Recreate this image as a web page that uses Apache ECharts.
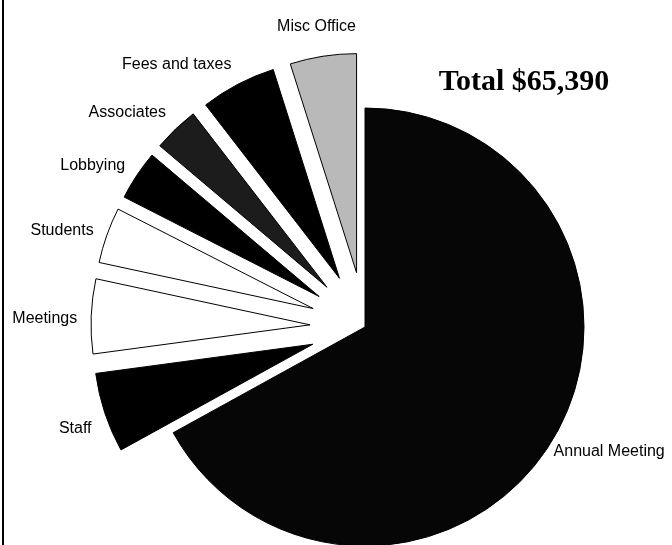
<!DOCTYPE html>
<html>
<head>
<meta charset="utf-8">
<script src="https://cdn.jsdelivr.net/npm/echarts@6/dist/echarts.min.js"></script>
<style>
  html, body { margin: 0; padding: 0; background: #fff; }
  #chart { width: 672px; height: 545px; }
</style>
</head>
<body>
<div id="chart"></div>
<script>
// ---- data ----
const categories = ['Annual Meeting', 'Staff', 'Meetings', 'Students', 'Lobbying', 'Associates', 'Fees and taxes', 'Misc Office'];
const amounts = [43800, 3850, 3600, 2700, 2400, 2200, 3640, 3200];
const exploded = [false, true, true, true, true, true, true, true];
const totalText = 'Total $65,390';

// ---- styling / layout ----
const sliceColors = ['#060606', '#000000', '#ffffff', '#ffffff', '#000000', '#1c1c1c', '#000000', '#b9b9b9'];
const CX = 365, CY = 327, R = 219, OFFSET = 55;
const LABEL_FONT_SIZE = 16;
const LABEL_FONT_FAMILY = '"Liberation Sans", Arial, sans-serif';

const total = amounts.reduce((a, b) => a + b, 0);
function midAngle(i) {
  let s = 0;
  for (let k = 0; k < i; k++) s += amounts[k];
  return (s + amounts[i] / 2) / total * 2 * Math.PI;
}

// text measurement for label box placement
const measureCtx = document.createElement('canvas').getContext('2d');
measureCtx.font = LABEL_FONT_SIZE + 'px ' + LABEL_FONT_FAMILY;

// Excel-like outside labels: the box touches an anchor point just beyond each slice's arc
const labelGraphics = categories.map((name, i) => {
  const a = midAngle(i);
  const dx = Math.sin(a), dy = -Math.cos(a);
  const dist = R + (exploded[i] ? OFFSET + 14 : 0);
  const ax = CX + dist * dx, ay = CY + dist * dy;
  const w = measureCtx.measureText(name).width, h = LABEL_FONT_SIZE;
  const fx = Math.sign(dx) * Math.min(1, Math.pow(Math.abs(dx) / 0.46, 2));
  const extra = (dy > 0 ? 9 : (dy > -0.6 ? 3 : 0)) + (dy < -0.95 ? -8 : 0);
  return {
    type: 'text',
    x: ax + fx * w / 2,
    y: ay + dy * h / 2 + extra,
    style: {
      text: name, fill: '#000', align: 'center', verticalAlign: 'middle',
      font: LABEL_FONT_SIZE + 'px ' + LABEL_FONT_FAMILY
    }
  };
});

const chart = echarts.init(document.getElementById('chart'), null, { renderer: 'canvas' });

chart.setOption({
  animation: false,
  backgroundColor: '#ffffff',
  graphic: [
    { type: 'line', shape: { x1: 3, y1: 0, x2: 3, y2: 545 }, style: { stroke: '#000', lineWidth: 2 } },
    {
      type: 'text', x: 524, y: 82,
      style: {
        text: totalText, fill: '#000', align: 'center', verticalAlign: 'middle',
        font: 'bold 30px "Liberation Serif", "Times New Roman", serif'
      }
    }
  ].concat(labelGraphics),
  series: [{
    type: 'pie',
    center: [CX, CY],
    radius: R,
    startAngle: 90,
    clockwise: true,
    selectedMode: 'multiple',
    selectedOffset: OFFSET,
    avoidLabelOverlap: false,
    emphasis: { disabled: true },
    select: { disabled: false, itemStyle: { borderColor: '#000', borderWidth: 1 } },
    itemStyle: { borderColor: '#000', borderWidth: 1 },
    label: { show: false },
    labelLine: { show: false },
    data: categories.map((name, i) => ({
      name: name,
      value: amounts[i],
      selected: exploded[i],
      itemStyle: { color: sliceColors[i] }
    }))
  }]
});
</script>
</body>
</html>
